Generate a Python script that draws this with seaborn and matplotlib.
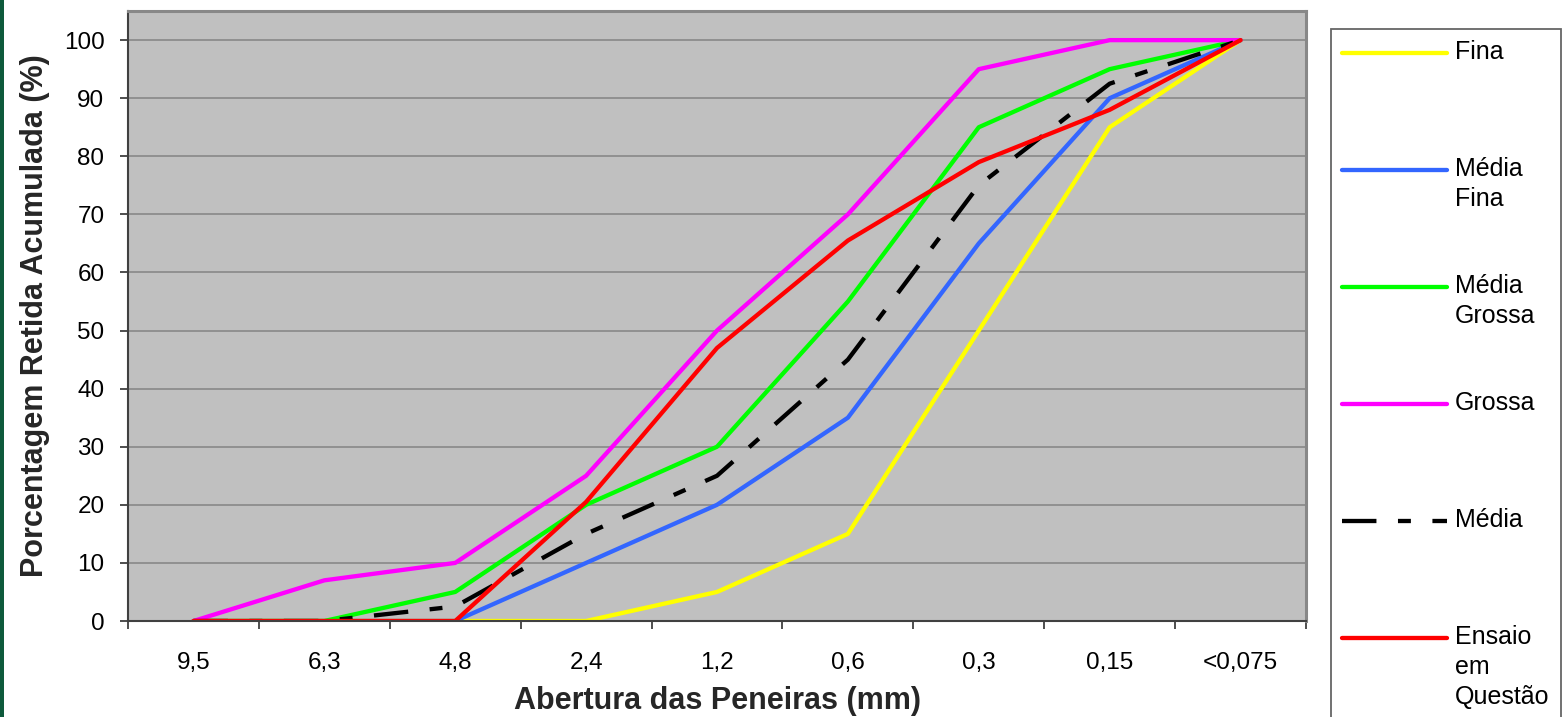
import numpy as np
import pandas as pd
import matplotlib
matplotlib.use("Agg")
import matplotlib.pyplot as plt
from matplotlib.legend_handler import HandlerLine2D
from matplotlib.patches import Rectangle
import seaborn as sns

# ---------------- data ----------------
sieves = ["9,5", "6,3", "4,8", "2,4", "1,2", "0,6", "0,3", "0,15", "<0,075"]
fina = [0, 0, 0, 0, 5, 15, 50, 85, 100]
media_fina = [0, 0, 0, 10, 20, 35, 65, 90, 100]
media_grossa = [0, 0, 5, 20, 30, 55, 85, 95, 100]
grossa = [0, 7, 10, 25, 50, 70, 95, 100, 100]
media = [0, 0, 2.5, 15, 25, 45, 75, 92.5, 100]
ensaio = [0, 0, 0, 20.5, 47, 65.5, 79, 88, 100]

series_names = ["Fina", "Média Fina", "Média Grossa", "Grossa", "Média", "Ensaio em Questão"]
legend_labels = ["Fina", "Média\nFina", "Média\nGrossa", "Grossa", "Média", "Ensaio\nem\nQuestão"]
y_ticks = [0, 10, 20, 30, 40, 50, 60, 70, 80, 90, 100]
x_label = "Abertura das Peneiras (mm)"
y_label = "Porcentagem Retida Acumulada (%)"

colors = ["#FFFF00", "#3366FF", "#00FF00", "#FF00FF", "#000000", "#FF0000"]

values = [fina, media_fina, media_grossa, grossa, media, ensaio]
rows = []
for name, vals in zip(series_names, values):
    for s, v in zip(sieves, vals):
        rows.append({"Peneira": s, "Valor": v, "Serie": name})
df = pd.DataFrame(rows)

# ---------------- style ----------------
sns.set_theme(style="white")
plt.rcParams["font.family"] = ["Liberation Sans", "DejaVu Sans"]

W, H = 1568, 717
fig = plt.figure(figsize=(W / 100, H / 100), dpi=100)
fig.patch.set_facecolor("white")
fig.patches.append(Rectangle((0, 0), 4 / W, 1, transform=fig.transFigure,
                             facecolor="#0e5a3c", edgecolor="none"))

ax = fig.add_axes([128 / W, (H - 621) / H, (1306 - 128) / W, (621 - 10.5) / H])
ax.set_facecolor("#C0C0C0")

LW = 3.1
palette = dict(zip(series_names, colors))
dashes = {n: "" for n in series_names}
dashes["Média"] = (8, 5, 3, 5)

sns.lineplot(data=df, x="Peneira", y="Valor", hue="Serie", style="Serie",
             hue_order=series_names, style_order=series_names,
             palette=palette, dashes=dashes, sort=False, errorbar=None,
             linewidth=LW, legend=False, ax=ax)
data_lines = list(ax.get_lines())[:len(series_names)]
for ln in data_lines:
    ln.set_solid_capstyle("round")
    ln.set_solid_joinstyle("round")

ax.set_xlim(-0.5, len(sieves) - 0.5)
ax.set_ylim(0, 105.1)
ax.set_yticks(y_ticks)
ax.set_yticklabels([str(t) for t in y_ticks])
ax.set_xticks(range(len(sieves)))
ax.set_xticklabels(sieves)
ax.set_xticks(np.arange(-0.5, len(sieves), 1.0), minor=True)
ax.tick_params(axis="x", which="major", length=0, pad=22, labelsize=17.5, labelcolor="black")
ax.tick_params(axis="x", which="minor", length=6, width=1.3, color="#404040", direction="out", bottom=True)
ax.tick_params(axis="y", which="major", length=6, width=1.3, color="#404040", direction="out",
               left=True, pad=11, labelsize=17.5, labelcolor="black")

ax.yaxis.grid(True, color="#8c8c8c", linewidth=1.3)
ax.xaxis.grid(False)
ax.set_axisbelow(True)

for side in ["top", "right"]:
    ax.spines[side].set_color("#888888")
    ax.spines[side].set_linewidth(2.2)
for side in ["left", "bottom"]:
    ax.spines[side].set_color("#404040")
    ax.spines[side].set_linewidth(1.5)

ax.set_xlabel(x_label, fontsize=22, fontweight="bold", labelpad=9)
ax.set_ylabel(y_label, fontsize=22, fontweight="bold", labelpad=10)

# ---------------- legend ----------------
FS = 18
LS = 1.32
r = fig.canvas.get_renderer()
t1 = fig.text(0, 0, "Ag", fontsize=FS, linespacing=LS)
t3 = fig.text(0, 0, "Ag\nAg\nAg", fontsize=FS, linespacing=LS)
dy_px = (t3.get_window_extent(r).height - t1.get_window_extent(r).height) / 2
t1.remove()
t3.remove()
shift_pt = dy_px * 72 / fig.dpi


class TopLine(HandlerLine2D):
    """Place the legend line at the level of the first text line."""

    def __init__(self, shift, **kw):
        super().__init__(**kw)
        self.shift = shift

    def create_artists(self, legend, orig_handle, xdescent, ydescent, width, height,
                       fontsize, trans):
        arts = super().create_artists(legend, orig_handle, xdescent, ydescent, width,
                                      height, fontsize, trans)
        for a in arts:
            a.set_ydata(np.asarray(a.get_ydata(), dtype=float) + self.shift)
        return arts


padded = []
for lab in legend_labels:
    n = lab.count("\n") + 1
    padded.append(lab + "\n" * (3 - n))

leg = fig.legend(data_lines, padded, loc="upper left",
                 bbox_to_anchor=(1331 / W, 1 - 29 / H), bbox_transform=fig.transFigure,
                 fontsize=FS, frameon=True, fancybox=False, borderpad=0.45,
                 handlelength=4.2, handletextpad=0.32, labelspacing=1.31,
                 borderaxespad=0,
                 handler_map={ln: TopLine(shift_pt) for ln in data_lines})
leg.get_frame().set_edgecolor("#404040")
leg.get_frame().set_linewidth(1.3)
leg.get_frame().set_facecolor("white")
for t in leg.get_texts():
    t.set_linespacing(LS)
    t.set_color("black")
for h in leg.legend_handles:
    h.set_linewidth(LW)

fig.savefig("out.png", dpi=100, facecolor="white")
